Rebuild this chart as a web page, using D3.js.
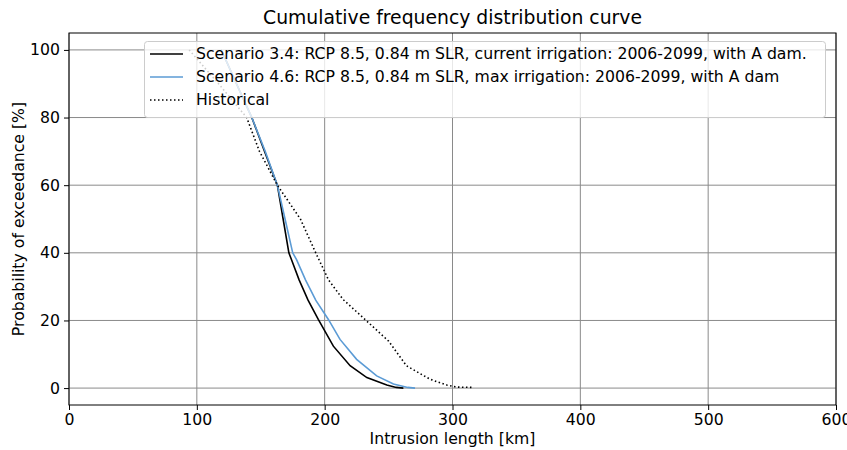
<!DOCTYPE html>
<html>
<head>
<meta charset="utf-8">
<script src="https://cdn.jsdelivr.net/npm/d3@7.9.0/dist/d3.min.js"></script>
<style>
  body { margin: 0; background: #fff; }
  svg { font-family: "DejaVu Sans", sans-serif; }
</style>
</head>
<body>
<svg id="chart" width="847" height="450"></svg>
<script>
// exceedance probability [%] and intrusion length [km]
const probBlack = [100, 97.6, 90, 80, 70, 60, 50, 40, 38, 32, 26, 20.3, 12.4, 6.6, 3.1, 0.9, 0.2, 0];
const kmBlack   = [119, 122, 131, 143, 153, 163, 167.5, 172, 174, 180, 187, 195, 206.8, 219.9, 233, 248.6, 256, 261.6];

const probBlue = [100, 97.6, 90, 80, 70, 60, 50, 40, 38, 32, 26, 20.3, 14.4, 8.5, 3.6, 1.2, 0.2, 0];
const kmBlue   = [119, 122, 131, 143, 153.5, 163, 169, 175, 178, 185, 193, 202.9, 212, 225, 240.7, 253.8, 265, 270.7];

const probHist = [100, 90, 80, 70, 60, 50, 40, 32, 26.2, 19.8, 13.9, 6.6, 2.6, 0.9, 0.3, 0.2];
const kmHist   = [94, 117, 139, 149, 163, 181, 193, 203, 214.4, 233, 250, 264, 282.5, 295.5, 303, 315];

const xTicks = [0, 100, 200, 300, 400, 500, 600];
const yTicks = [0, 20, 40, 60, 80, 100];

const seriesNames = [
  "Scenario 3.4: RCP 8.5, 0.84 m SLR, current irrigation: 2006-2099, with A dam.",
  "Scenario 4.6: RCP 8.5, 0.84 m SLR, max irrigation: 2006-2099, with A dam",
  "Historical"
];

const W = 847, H = 450;
const margin = { top: 33, right: 11, bottom: 45, left: 69 };
const fs = 15.7;
const svg = d3.select("#chart");

const x = d3.scaleLinear().domain([0, 600]).range([margin.left, W - margin.right]);
const y = d3.scaleLinear().domain([-5, 105]).range([H - margin.bottom, margin.top]);

// grid
const grid = svg.append("g");
grid.selectAll(".gx").data(xTicks).join("line")
  .attr("x1", d => x(d)).attr("x2", d => x(d))
  .attr("y1", margin.top).attr("y2", H - margin.bottom)
  .attr("stroke", "#8a8a8a").attr("stroke-width", 1);
grid.selectAll(".gy").data(yTicks).join("line")
  .attr("x1", margin.left).attr("x2", W - margin.right)
  .attr("y1", d => y(d)).attr("y2", d => y(d))
  .attr("stroke", "#8a8a8a").attr("stroke-width", 1);

const line = d3.line().x(d => x(d[0])).y(d => y(d[1]));
const series = [
  { km: kmBlack, p: probBlack, color: "#000", dash: null },
  { km: kmBlue, p: probBlue, color: "#5b9bd5", dash: null },
  { km: kmHist, p: probHist, color: "#000", dash: "1.5,2.5" }
];
series.forEach(s => {
  svg.append("path")
    .attr("d", line(d3.zip(s.km, s.p)))
    .attr("fill", "none")
    .attr("stroke", s.color)
    .attr("stroke-width", 1.6)
    .attr("stroke-dasharray", s.dash);
});

// axes
const xAxis = svg.append("g")
  .attr("transform", `translate(0,${H - margin.bottom})`)
  .call(d3.axisBottom(x).tickValues(xTicks).tickSize(5).tickPadding(4));
const yAxis = svg.append("g")
  .attr("transform", `translate(${margin.left},0)`)
  .call(d3.axisLeft(y).tickValues(yTicks).tickSize(5).tickPadding(4));
[xAxis, yAxis].forEach(a => {
  a.select(".domain").remove();
  a.selectAll("text").attr("font-size", fs).attr("fill", "#000")
    .attr("font-family", "DejaVu Sans");
  a.selectAll("line").attr("stroke", "#000");
});

// frame
svg.append("rect")
  .attr("x", margin.left).attr("y", margin.top)
  .attr("width", W - margin.left - margin.right)
  .attr("height", H - margin.top - margin.bottom)
  .attr("fill", "none").attr("stroke", "#000").attr("stroke-width", 1);

// legend
const leg = svg.append("g");
leg.append("rect")
  .attr("x", 144.5).attr("y", 41.5).attr("width", 681).attr("height", 76)
  .attr("rx", 3).attr("fill", "#fff").attr("fill-opacity", 0.8)
  .attr("stroke", "#ccc");
seriesNames.forEach((name, i) => {
  const yy = 54 + i * 23;
  leg.append("line")
    .attr("x1", 150).attr("x2", 183).attr("y1", yy).attr("y2", yy)
    .attr("stroke", series[i].color).attr("stroke-width", 1.6)
    .attr("stroke-dasharray", series[i].dash);
  leg.append("text")
    .attr("x", 196).attr("y", yy).attr("dy", "0.35em")
    .attr("font-size", fs).attr("fill", "#000")
    .text(name);
});

// titles
svg.append("text")
  .attr("x", (margin.left + W - margin.right) / 2).attr("y", 17).attr("dy", "0.35em")
  .attr("text-anchor", "middle").attr("font-size", 18.8)
  .text("Cumulative frequency distribution curve");
svg.append("text")
  .attr("x", (margin.left + W - margin.right) / 2).attr("y", 439).attr("dy", "0.35em")
  .attr("text-anchor", "middle").attr("font-size", fs)
  .text("Intrusion length [km]");
svg.append("text")
  .attr("transform", `translate(18,${(margin.top + H - margin.bottom) / 2}) rotate(-90)`)
  .attr("dy", "0.35em")
  .attr("text-anchor", "middle").attr("font-size", fs)
  .text("Probability of exceedance [%]");
</script>
</body>
</html>
